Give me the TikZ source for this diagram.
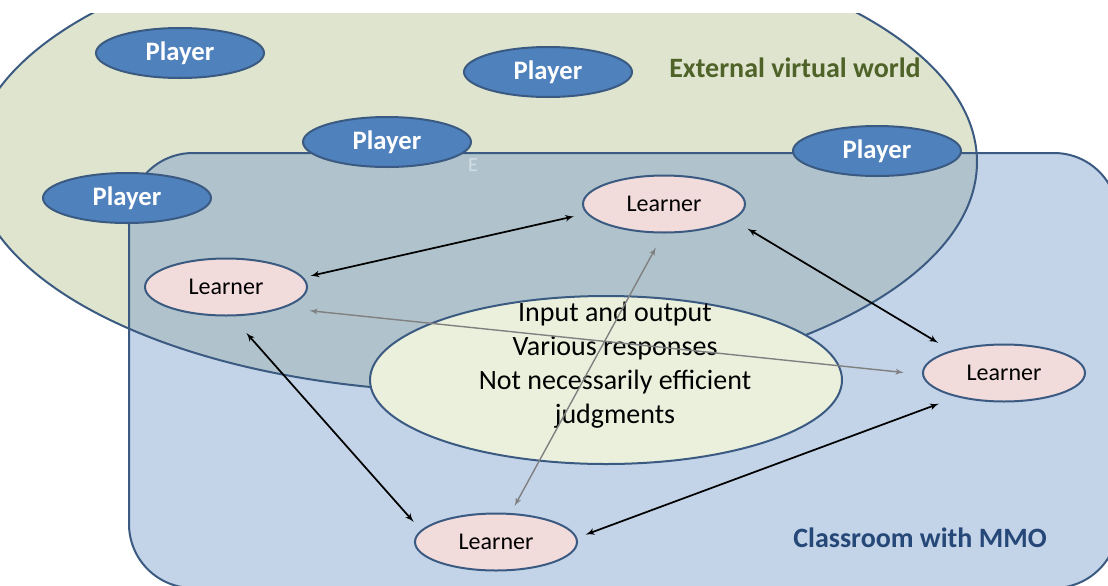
\documentclass[tikz,border=0pt]{standalone}
\usepackage{fontspec}
\setmainfont{Carlito}
\usetikzlibrary{arrows,shapes.geometric}
\definecolor{edgeblue}{RGB}{59,90,130}
\definecolor{playerblue}{RGB}{79,129,189}
\definecolor{learnerpink}{RGB}{242,220,219}
\definecolor{worldgreen}{RGB}{222,228,205}
\definecolor{hubgreen}{RGB}{235,240,221}
\definecolor{roomblue}{RGB}{122,157,203}
\definecolor{worldtext}{RGB}{79,98,40}
\definecolor{roomtext}{RGB}{37,72,120}

\begin{document}
\begin{tikzpicture}[x=0.75pt,y=-0.75pt]

		\tikzset{player/.style = {shape=ellipse,draw=edgeblue,line width=1.5pt,fill=playerblue,minimum width=126pt,minimum height=37.5pt,text=white,font=\fontsize{20}{24}\selectfont\bfseries}}
		\tikzset{learner/.style = {shape=ellipse,draw=edgeblue,line width=1.5pt,fill=learnerpink,minimum width=121.5pt,minimum height=42.75pt,font=\fontsize{18}{22}\selectfont}}
		\tikzset{hub/.style = {shape=ellipse,draw=edgeblue,line width=1.5pt,fill=hubgreen,minimum width=354pt,minimum height=126pt}}
		\tikzset{duplex/.style = {<->,> = latex',line width=1.3pt}}
		\tikzset{faint/.style = {<->,> = latex',line width=1.05pt,draw=gray}}
		\useasboundingbox (0,0) rectangle (1108,586);
		%regions
		\begin{scope}
			\clip (0,13) rectangle (1108,586);
			\fill[worldgreen] (475,162) ellipse [x radius=502, y radius=230];
			\fill[roomblue,opacity=0.45,rounded corners=48pt] (129,153) rectangle (1118,588);
			\draw[edgeblue,line width=1.5pt] (475,162) ellipse [x radius=502, y radius=230];
			\draw[edgeblue,line width=1.5pt,rounded corners=48pt] (129,153) rectangle (1118,588);
		\end{scope}
		\node[text=worldtext,font=\fontsize{21}{25}\selectfont\bfseries] (world) at (795,68) {External virtual world};
		\node[text=roomtext,font=\fontsize{21}{25}\selectfont\bfseries] (room) at (920,538) {Classroom with MMO};
		\node[text=white,opacity=0.45,font=\fontsize{15}{18}\selectfont] (mark) at (473,165) {E};
		\node[hub] (C) at (606,380) {};
		\node[align=center,font=\fontsize{21}{25.5}\selectfont] (Ctext) at (615,365) {Input and output\\Various responses\\Not necessarily efficient\\judgments};
		\node[player] (P1) at (180,53)  {Player};
		\node[player] (P2) at (548,72)  {Player};
		\node[player] (P3) at (387,142) {Player};
		\node[player] (P4) at (877,151) {Player};
		\node[player] (P5) at (127,198) {Player};
		\node[learner] (LT) at (664,204) {Learner};
		\node[learner] (LL) at (226,287) {Learner};
		\node[learner] (LR) at (1004,373) {Learner};
		\node[learner] (LB) at (496,542) {Learner};
		%edges
		\draw[duplex,shorten <=5.25pt,shorten >=9.4pt] (LL.7) to (LT.-173);
		\draw[duplex,shorten <=12.75pt,shorten >=11.25pt] (LT.-13) to (LR.157);
		\draw[duplex,shorten <=16.5pt,shorten >=8.25pt] (LL.-79) to (LB.171);
		\draw[duplex,shorten <=6.75pt,shorten >=14.25pt] (LB.3) to (LR.-153);
		\draw[faint,shorten <=19.5pt,shorten >=13.9pt] (LL.-20) to (LR.181);
		\draw[faint,shorten <=12pt,shorten >=6pt] (LT.-91) to (LB.63);
		\end{tikzpicture}
\end{document}
